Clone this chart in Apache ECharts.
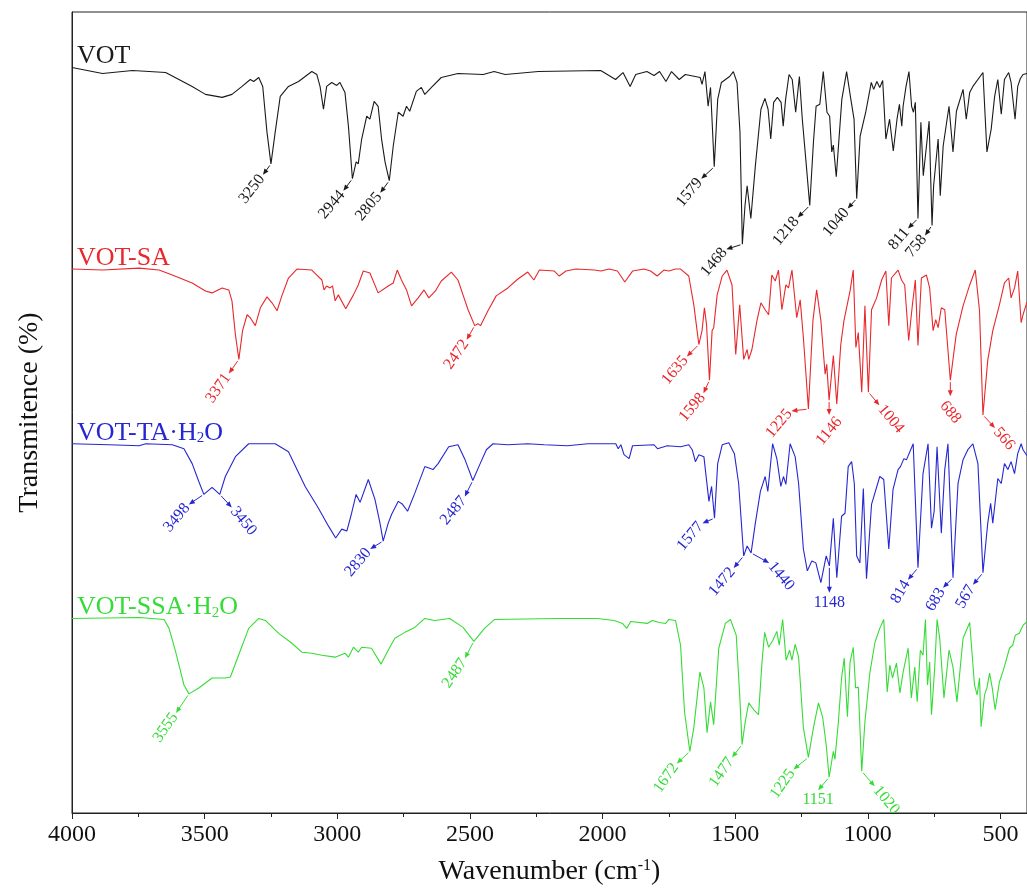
<!DOCTYPE html>
<html>
<head>
<meta charset="utf-8">
<script src="https://cdn.jsdelivr.net/npm/echarts@6/dist/echarts.min.js"></script>
<style>
  html, body { margin: 0; padding: 0; background: #fff; }
  #main { width: 1027px; height: 891px; }
</style>
</head>
<body>
<div id="main"></div>
<script>
// FTIR spectra, [wavenumber (cm-1), transmittance (offset, a.u.)]
const vot = [[4000,75.1],[3885,74.5],[3772,74.8],[3647,74.6],[3547,73.2],[3497,72.4],[3434,72.1],[3397,72.4],[3359,73.2],[3328,73.9],[3315,73.7],[3296,74.1],[3281,73.2],[3265,68.6],[3250,65.4],[3234,68.6],[3215,72.2],[3184,73.2],[3146,73.7],[3096,74.7],[3077,74.4],[3065,73.2],[3052,70.9],[3040,73.2],[3021,73.6],[3002,73.3],[2990,73.6],[2971,72.6],[2958,69.2],[2943,63.9],[2929,65.6],[2921,65.4],[2908,67.9],[2889,70.2],[2877,69.9],[2861,71.7],[2846,71.2],[2833,67.9],[2820,65.6],[2804,63.7],[2789,67.2],[2770,70.6],[2752,70.2],[2739,71.2],[2727,70.7],[2702,72.7],[2683,73.1],[2670,72.4],[2645,73.1],[2608,74.1],[2545,74.5],[2450,74.4],[2409,74.7],[2367,74.4],[2242,74.7],[2007,74.8],[1951,73.9],[1923,74.6],[1896,73.2],[1875,74.4],[1833,74.7],[1806,74.3],[1785,74.7],[1761,73.7],[1740,74.7],[1711,73.9],[1688,74.4],[1632,74.1],[1625,73.4],[1614,74.7],[1602,71.2],[1593,73.1],[1579,65.1],[1566,71.9],[1552,73.6],[1521,74.2],[1507,74.7],[1493,73.6],[1482,68.6],[1473,57.3],[1463,61.2],[1455,63.2],[1441,59.9],[1424,65.2],[1403,70.9],[1388,72.0],[1376,70.9],[1366,67.9],[1355,71.6],[1341,72.1],[1327,71.6],[1319,69.2],[1310,71.9],[1297,74.4],[1285,73.9],[1272,70.6],[1258,74.2],[1247,69.9],[1233,65.6],[1219,61.2],[1205,67.6],[1195,71.2],[1181,71.4],[1168,74.7],[1154,70.6],[1144,70.2],[1136,66.6],[1130,67.3],[1119,64.1],[1098,71.9],[1080,74.7],[1064,71.9],[1052,69.9],[1042,61.9],[1029,68.2],[1008,70.6],[987,73.6],[978,72.9],[966,73.7],[955,73.1],[944,73.8],[932,67.9],[918,69.9],[904,66.7],[890,69.9],[881,71.4],[872,69.2],[867,71.2],[856,73.2],[845,74.7],[835,71.2],[828,70.6],[821,71.6],[811,59.9],[800,69.6],[791,64.2],[779,67.2],[769,69.7],[758,59.2],[752,63.2],[735,67.9],[727,62.2],[716,67.2],[694,71.2],[679,66.6],[666,70.7],[641,72.9],[629,69.9],[616,72.6],[604,73.2],[566,74.6],[551,66.6],[535,68.9],[522,72.2],[510,73.9],[497,70.4],[485,73.9],[469,74.6],[460,73.6],[445,69.9],[435,73.2],[425,74.0],[415,74.4],[400,74.5]];

const votSA = [[4000,54.8],[3885,54.7],[3747,54.9],[3672,54.7],[3622,54.2],[3547,53.4],[3497,52.6],[3472,52.4],[3434,52.9],[3409,52.7],[3397,51.6],[3384,48.2],[3371,45.7],[3357,48.6],[3340,50.2],[3328,49.9],[3309,49.1],[3290,50.9],[3265,52.0],[3246,51.4],[3227,50.6],[3209,52.1],[3184,53.9],[3152,54.8],[3096,54.7],[3077,54.2],[3058,53.7],[3050,52.7],[3040,53.1],[3027,52.9],[3018,53.1],[3008,51.6],[2996,52.2],[2968,50.8],[2939,52.2],[2921,53.2],[2902,54.6],[2877,54.4],[2846,52.4],[2808,53.1],[2789,53.4],[2774,54.7],[2758,53.7],[2739,52.7],[2720,51.1],[2695,51.9],[2673,52.7],[2655,51.9],[2630,52.6],[2608,53.6],[2570,54.5],[2545,53.7],[2526,52.2],[2507,50.7],[2482,49.1],[2470,49.3],[2460,49.1],[2432,50.6],[2401,52.1],[2357,52.9],[2319,53.8],[2282,54.5],[2259,53.7],[2238,54.7],[2182,54.6],[2163,54.1],[2138,54.6],[2100,54.8],[2031,54.7],[2006,54.6],[1975,54.8],[1944,54.6],[1916,53.5],[1887,54.6],[1844,54.8],[1819,54.6],[1794,54.1],[1769,54.7],[1750,54.6],[1725,54.8],[1706,54.8],[1675,54.1],[1656,51.2],[1637,47.2],[1625,48.6],[1616,50.9],[1608,49.2],[1597,43.6],[1587,48.6],[1581,48.9],[1568,52.2],[1549,54.1],[1531,54.7],[1512,53.2],[1498,46.2],[1483,51.2],[1468,45.7],[1455,46.7],[1449,45.7],[1437,46.7],[1418,49.6],[1403,51.4],[1387,50.7],[1374,50.2],[1362,54.2],[1349,53.6],[1337,54.7],[1324,50.7],[1309,53.2],[1299,52.9],[1286,54.7],[1268,49.9],[1255,51.7],[1243,47.9],[1224,40.7],[1207,49.6],[1193,52.7],[1177,49.6],[1161,44.2],[1155,45.2],[1146,41.6],[1130,46.1],[1117,41.2],[1102,47.2],[1090,49.6],[1067,52.6],[1055,54.7],[1045,46.9],[1036,48.4],[1023,42.4],[1011,51.1],[998,42.4],[986,50.7],[967,51.9],[948,53.7],[932,54.6],[921,49.1],[911,53.9],[886,54.7],[873,53.7],[861,53.2],[846,47.6],[832,51.2],[821,53.7],[811,47.1],[798,53.9],[779,54.2],[767,52.9],[754,48.6],[744,49.7],[735,48.9],[723,50.9],[710,50.7],[704,50.9],[689,43.6],[667,48.2],[641,51.1],[616,53.2],[595,54.7],[579,50.6],[566,40.1],[548,45.6],[529,48.6],[504,51.2],[485,53.4],[469,53.9],[460,51.9],[447,52.9],[435,54.6],[422,49.4],[415,50.2],[400,51.5]];

const votTA = [[4000,37.2],[3860,37.1],[3747,37.0],[3722,37.2],[3622,37.1],[3578,36.7],[3547,35.2],[3522,33.4],[3503,32.1],[3472,32.8],[3443,32.1],[3422,33.9],[3384,35.9],[3334,37.2],[3234,37.2],[3184,36.4],[3121,32.9],[3071,30.7],[3033,28.9],[3006,27.7],[2983,28.6],[2964,28.4],[2946,30.2],[2929,32.1],[2914,31.3],[2883,33.6],[2858,31.6],[2839,29.2],[2827,27.4],[2808,29.2],[2795,30.1],[2770,31.4],[2754,31.1],[2735,30.4],[2708,32.2],[2670,34.9],[2639,34.6],[2620,35.2],[2580,36.9],[2545,37.1],[2520,35.7],[2489,33.5],[2463,35.1],[2438,36.6],[2413,37.2],[2357,37.1],[2282,37.2],[2219,37.1],[2132,37.0],[2056,37.2],[1950,37.2],[1941,36.7],[1931,37.1],[1919,36.1],[1900,35.7],[1887,37.0],[1806,37.1],[1793,36.7],[1756,37.0],[1706,36.9],[1675,37.1],[1662,36.6],[1650,35.4],[1637,36.1],[1618,35.9],[1599,31.4],[1589,32.9],[1578,29.7],[1566,35.2],[1549,37.1],[1524,37.3],[1503,36.2],[1487,33.2],[1468,25.9],[1455,26.9],[1440,26.2],[1424,29.2],[1405,32.4],[1387,33.9],[1377,32.4],[1359,37.2],[1343,35.7],[1328,32.9],[1318,33.9],[1309,33.1],[1293,37.2],[1274,35.9],[1261,33.2],[1243,26.6],[1228,24.4],[1211,25.4],[1196,25.2],[1177,23.2],[1157,25.9],[1145,24.9],[1130,29.7],[1117,23.7],[1099,29.9],[1086,30.2],[1074,34.9],[1061,35.4],[1051,33.2],[1042,25.9],[1030,25.2],[1017,32.7],[1005,23.6],[986,31.1],[955,33.9],[940,33.6],[921,26.6],[905,32.6],[886,34.6],[877,34.9],[864,35.7],[854,35.6],[829,37.2],[811,24.7],[792,34.2],[773,37.2],[760,28.7],[750,30.4],[739,36.9],[723,28.2],[710,34.6],[698,37.2],[679,23.7],[660,33.2],[641,35.6],[623,36.6],[604,37.2],[585,35.2],[566,24.2],[548,29.2],[537,31.2],[529,29.2],[510,33.7],[497,33.2],[485,35.2],[472,34.6],[460,35.4],[447,34.2],[435,36.2],[422,37.2],[415,36.6],[400,36.0]];

const votSSA = [[4000,19.6],[3747,19.7],[3653,19.5],[3634,18.6],[3609,16.2],[3578,12.9],[3559,12.0],[3522,12.6],[3472,13.6],[3422,13.6],[3403,13.7],[3372,15.9],[3334,18.6],[3296,19.6],[3271,19.4],[3221,18.1],[3171,17.1],[3134,16.2],[3096,16.1],[3058,15.9],[3008,15.7],[2971,16.1],[2958,15.7],[2939,16.7],[2921,16.2],[2908,16.7],[2871,16.6],[2835,15.0],[2808,16.4],[2783,17.6],[2745,18.2],[2708,18.7],[2670,19.6],[2633,19.4],[2576,19.6],[2526,18.7],[2485,17.3],[2445,18.6],[2407,19.5],[2169,19.6],[2019,19.6],[1956,19.4],[1925,19.1],[1909,18.6],[1894,19.3],[1831,19.1],[1812,19.4],[1787,19.2],[1762,19.1],[1750,19.5],[1725,19.4],[1706,16.9],[1691,10.2],[1671,6.2],[1656,8.6],[1633,14.2],[1618,12.6],[1606,8.1],[1593,11.2],[1581,8.9],[1562,16.6],[1537,19.1],[1518,19.5],[1496,17.9],[1483,11.9],[1474,6.9],[1462,9.2],[1449,11.1],[1430,10.4],[1412,9.9],[1399,15.2],[1389,18.2],[1374,16.7],[1358,17.4],[1343,18.3],[1334,16.9],[1321,19.5],[1308,15.4],[1295,16.4],[1286,15.4],[1274,17.0],[1261,15.7],[1243,8.6],[1224,5.6],[1205,8.6],[1186,11.1],[1170,9.6],[1157,6.9],[1146,3.6],[1130,6.2],[1124,5.4],[1111,9.2],[1099,13.6],[1089,15.6],[1077,9.7],[1067,15.2],[1055,16.7],[1046,12.6],[1036,12.7],[1023,4.2],[1011,9.2],[992,14.2],[973,17.2],[955,18.6],[940,19.5],[927,12.2],[917,14.9],[907,13.6],[892,15.1],[879,12.1],[867,14.2],[848,16.6],[836,11.6],[823,14.7],[814,11.2],[802,16.4],[792,15.9],[783,19.5],[775,12.9],[767,15.2],[760,9.9],[748,14.6],[739,19.5],[729,17.6],[713,11.6],[694,16.4],[679,14.7],[664,11.2],[641,17.6],[616,19.2],[598,12.9],[588,11.9],[579,13.6],[573,8.7],[560,11.9],[551,12.6],[541,14.1],[531,12.6],[520,10.4],[504,13.2],[489,14.4],[466,16.6],[454,16.9],[444,17.9],[429,18.1],[415,18.9],[400,19.3]];

// labelled bands (cm-1)
const votPeaks = [3250, 2944, 2805, 1579, 1468, 1218, 1040, 811, 758];
const votSAPeaks = [3371, 2472, 1635, 1598, 1225, 1146, 1004, 688, 566];
const votTAPeaks = [3498, 3450, 2830, 2487, 1577, 1472, 1440, 1148, 814, 683, 567];
const votSSAPeaks = [3555, 2487, 1672, 1477, 1225, 1151, 1020];

const majorTicks = [4000, 3500, 3000, 2500, 2000, 1500, 1000, 500];
const minorTicks = [3750, 3250, 2750, 2250, 1750, 1250, 750];

const FONT = '"Liberation Serif", "Times New Roman", serif';

// arrow vector (px), text rotation (deg), text anchoring
const arrowLayout = {
  'vot3250': [-8, 11, 52, 'end'],   'vot2944': [-9, 12, 50, 'end'],  'vot2805': [-9, 12, 50, 'end'],
  'vot1579': [-13, 12, 50, 'end'],  'vot1468': [-16, 5, 50, 'end'],  'vot1218': [-12, 12, 50, 'end'],
  'vot1040': [-9, 10, 50, 'end'],   'vot811': [-10, 10, 50, 'end'],  'vot758': [-7, 10, 50, 'end'],
  'sa3371': [-10, 14, 55, 'end'],   'sa2472': [-8, 14, 55, 'end'],   'sa1635': [-12, 12, 50, 'end'],
  'sa1598': [-6, 13, 50, 'end'],    'sa1225': [-17, 2, 50, 'end'],   'sa1146': [0, 15, 50, 'mid'],
  'sa1004': [11, 13, -50, 'start'], 'sa688': [0, 16, -50, 'mid'],    'sa566': [12, 13, -50, 'start'],
  'ta3498': [-15, 10, 50, 'end'],   'ta3450': [12, 13, -50, 'start'], 'ta2830': [-13, 8, 50, 'end'],
  'ta2487': [-8, 16, 50, 'end'],    'ta1577': [-12, 5, 50, 'end'],   'ta1472': [-10, 12, 50, 'end'],
  'ta1440': [18, 10, -50, 'start'], 'ta1148': [0, 27, 0, 'mid'],     'ta814': [-10, 12, 60, 'end'],
  'ta683': [-10, 10, 60, 'end'],    'ta567': [-10, 12, 60, 'end'],
  'ssa3555': [-13, 19, 55, 'end'],  'ssa2487': [-9, 17, 55, 'end'],  'ssa1672': [-13, 12, 55, 'end'],
  'ssa1477': [-10, 13, 55, 'end'],  'ssa1225': [-15, 12, 55, 'end'], 'ssa1151': [-11, 13, 0, 'mid'],
  'ssa1020': [13, 15, -50, 'start']
};

const sets = [
  { id: 'vot', name: 'VOT', text: 'VOT', color: '#1a1a1a', data: vot, peaks: votPeaks },
  { id: 'sa', name: 'VOT-SA', text: 'VOT-SA', color: '#e8282c', data: votSA, peaks: votSAPeaks },
  { id: 'ta', name: 'VOT-TA·H2O', text: 'VOT-TA·H{s|2}O', color: '#2626d2', data: votTA, peaks: votTAPeaks },
  { id: 'ssa', name: 'VOT-SSA·H2O', text: 'VOT-SSA·H{s|2}O', color: '#36dc36', data: votSSA, peaks: votSSAPeaks }
];

const chart = echarts.init(document.getElementById('main'));

const option = {
  animation: false,
  backgroundColor: '#fff',
  grid: { left: 72, right: -4, top: 12, bottom: 72, show: true, borderColor: '#222', borderWidth: 1 },
  xAxis: [
    {
      type: 'value', min: 400, max: 4000, inverse: true,
      name: 'Wavenumber (cm{sup|-1})', nameLocation: 'middle', nameGap: 45,
      nameTextStyle: {
        fontFamily: FONT, fontSize: 28, color: '#111',
        rich: { sup: { fontFamily: FONT, fontSize: 16, verticalAlign: 'top', color: '#111' } }
      },
      axisLine: { show: true, lineStyle: { color: '#222', width: 1 } },
      axisTick: { show: true, length: 6, customValues: majorTicks, lineStyle: { color: '#222' } },
      axisLabel: {
        customValues: majorTicks, fontFamily: FONT, fontSize: 24, color: '#111', margin: 10,
        formatter: v => String(v)
      },
      splitLine: { show: false }
    },
    {
      type: 'value', min: 400, max: 4000, inverse: true, position: 'bottom',
      axisLine: { show: false },
      axisTick: { show: true, length: 4, customValues: minorTicks, lineStyle: { color: '#222' } },
      axisLabel: { show: false },
      splitLine: { show: false }
    }
  ],
  yAxis: {
    type: 'value', min: 0, max: 80.7,
    name: 'Transmitence (%)', nameLocation: 'middle', nameGap: 28, nameRotate: 90,
    nameTextStyle: { fontFamily: FONT, fontSize: 28, color: '#111' },
    axisLine: { show: true, lineStyle: { color: '#222', width: 1 } },
    axisTick: { show: false },
    axisLabel: { show: false },
    splitLine: { show: false }
  },
  series: sets.map(s => ({
    name: s.name,
    type: 'line',
    data: s.data,
    showSymbol: false,
    symbol: 'none',
    lineStyle: { color: s.color, width: 1.1 },
    itemStyle: { color: s.color }
  }))
};

chart.setOption(option);

// annotations: arrows + rotated band labels placed through the axis scales
function buildGraphics() {
  const els = [];
  sets.forEach(s => {
    const start = chart.convertToPixel({ xAxisIndex: 0, yAxisIndex: 0 }, s.data[0]);
    els.push({
      type: 'text', x: start[0] + 5, y: start[1] + 2, silent: true,
      style: {
        text: s.text, fill: s.color, font: '26px ' + FONT,
        verticalAlign: 'bottom', align: 'left',
        rich: { s: { fontFamily: FONT, fontSize: 15, fill: s.color, verticalAlign: 'bottom' } }
      }
    });

    s.peaks.forEach(p => {
      const L = arrowLayout[s.id + p];
      if (!L) return;
      let best = null;
      s.data.forEach(d => {
        if (Math.abs(d[0] - p) <= 15 && (!best || d[1] < best[1])) best = d;
      });
      if (!best) return;
      const pk = chart.convertToPixel({ xAxisIndex: 0, yAxisIndex: 0 }, best);
      const [dx, dy, rot, mode] = L;
      const len = Math.hypot(dx, dy);
      const ux = dx / len, uy = dy / len;
      const nx = -uy, ny = ux;
      const tip = [pk[0] + dx, pk[1] + dy];
      els.push({
        type: 'line', silent: true,
        shape: { x1: pk[0] + ux * 2, y1: pk[1] + uy * 2, x2: tip[0] - ux * 4, y2: tip[1] - uy * 4 },
        style: { stroke: s.color, lineWidth: 1 }
      });
      els.push({
        type: 'polygon', silent: true,
        shape: { points: [tip, [tip[0] - ux * 6 + nx * 2.5, tip[1] - uy * 6 + ny * 2.5], [tip[0] - ux * 6 - nx * 2.5, tip[1] - uy * 6 - ny * 2.5]] },
        style: { fill: s.color }
      });
      let tx, ty, align, valign;
      if (mode === 'mid') {
        if (rot === 0) {
          tx = tip[0]; ty = tip[1] + 2; align = 'center'; valign = 'top';
        } else {
          tx = tip[0]; ty = tip[1] + 16; align = 'center'; valign = 'middle';
        }
      } else {
        tx = tip[0] + ux * 2; ty = tip[1] + uy * 2;
        align = mode === 'end' ? 'right' : 'left'; valign = 'middle';
      }
      els.push({
        type: 'text', x: tx, y: ty, rotation: rot * Math.PI / 180, silent: true,
        style: { text: String(p), fill: s.color, font: '16px ' + FONT, align: align, verticalAlign: valign }
      });
    });
  });
  return els;
}

chart.setOption({ graphic: buildGraphics() });
</script>
</body>
</html>
